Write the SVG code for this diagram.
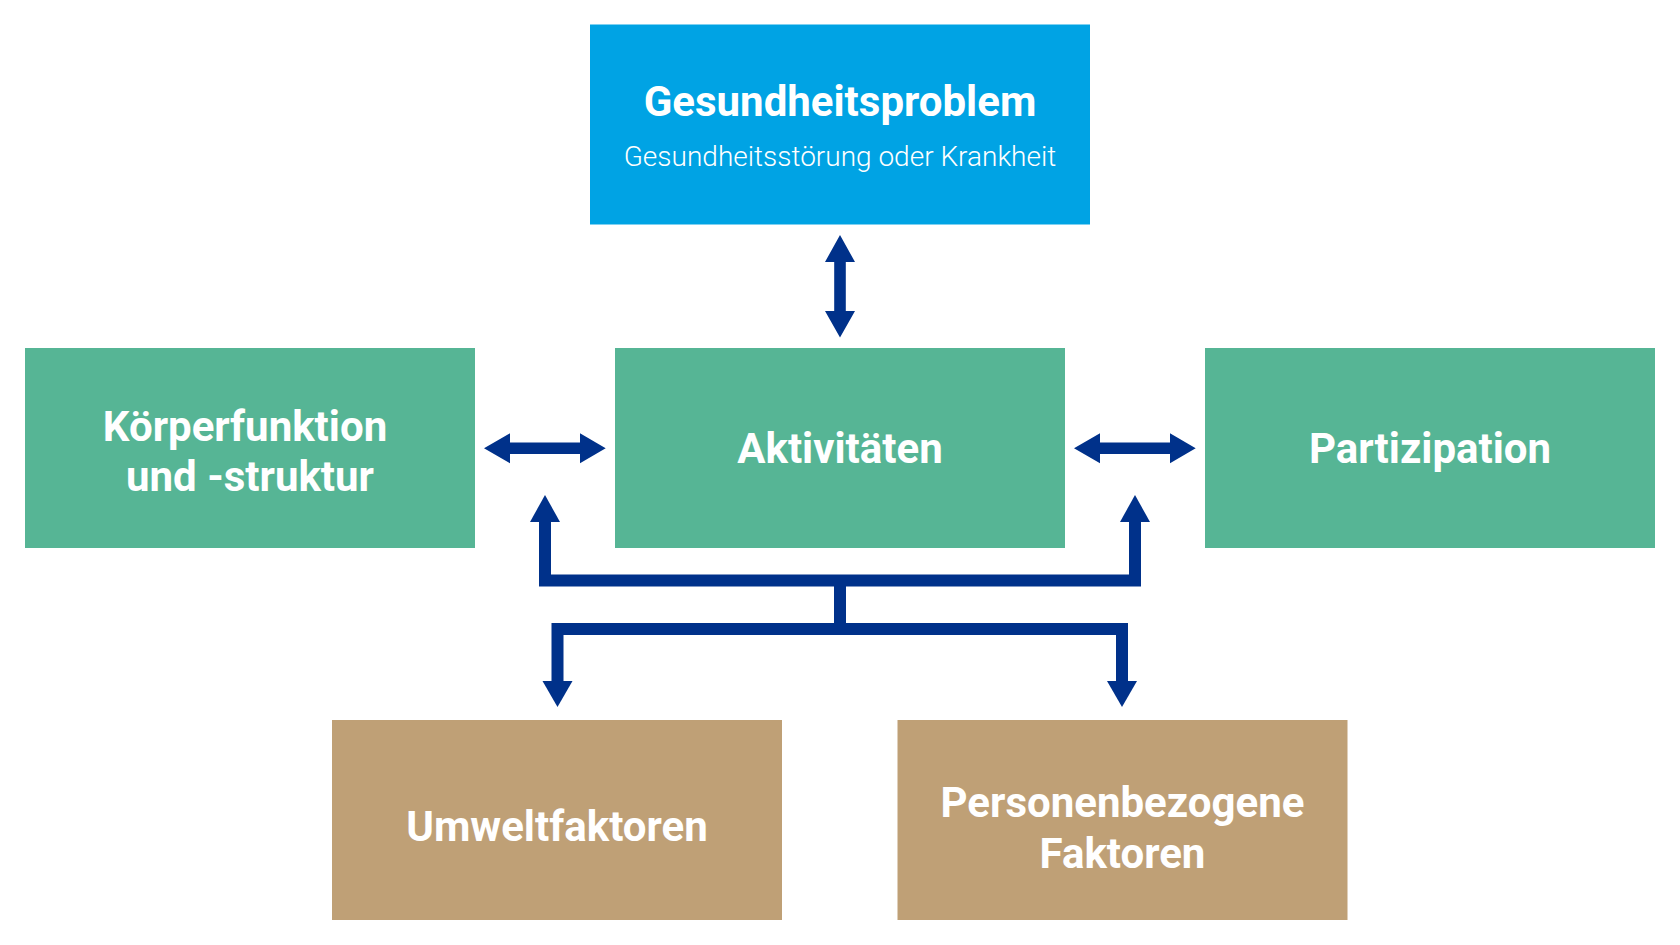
<svg xmlns="http://www.w3.org/2000/svg" width="1680" height="945" viewBox="0 0 1680 945">
<style>
.t{font-family:Roboto,"Liberation Sans",sans-serif;font-weight:700;font-size:42px;fill:#fff;text-anchor:middle}
.s{font-family:Roboto,"Liberation Sans",sans-serif;font-weight:300;font-size:28px;fill:#fff;text-anchor:middle}
.blue{fill:#00A3E4}
.green{fill:#56B595}
.tan{fill:#BFA076}
.ar{fill:#00318A}
.ln{fill:none;stroke:#00318A;stroke-width:12;stroke-linejoin:miter}
</style>
<rect width="1680" height="945" fill="#fff"/>
<g id="gesundheitsproblem">
<rect class="blue" x="590" y="24.5" width="500" height="200"/>
<text class="t" x="840" y="116">Gesundheitsproblem</text>
<text class="s" x="840" y="166">Gesundheitsstörung oder Krankheit</text>
</g>
<g id="koerperfunktion">
<rect class="green" x="25" y="348" width="450" height="200"/>
<text class="t" x="245" y="441">Körperfunktion</text>
<text class="t" x="250" y="491">und -struktur</text>
</g>
<g id="aktivitaeten">
<rect class="green" x="615" y="348" width="450" height="200"/>
<text class="t" x="840" y="463">Aktivitäten</text>
</g>
<g id="partizipation">
<rect class="green" x="1205" y="348" width="450" height="200"/>
<text class="t" x="1430" y="463">Partizipation</text>
</g>
<g id="umweltfaktoren">
<rect class="tan" x="332" y="720" width="450" height="200"/>
<text class="t" x="557" y="841">Umweltfaktoren</text>
</g>
<g id="personenbezogene">
<rect class="tan" x="897.5" y="720" width="450" height="200"/>
<text class="t" x="1122.5" y="817">Personenbezogene</text>
<text class="t" x="1122.5" y="868">Faktoren</text>
</g>
<g id="connectors">
<path class="ar" d="M840,235 L855,262 L845.8,262 L845.8,311 L855,311 L840,337.5 L825,311 L834.2,311 L834.2,262 L825,262 Z"/>
<path class="ar" d="M484,448.3 L510,433.3 L510,442.5 L580,442.5 L580,433.3 L605.7,448.3 L580,463.3 L580,454.1 L510,454.1 L510,463.3 Z"/>
<path class="ar" d="M1074,448.3 L1100,433.3 L1100,442.5 L1170,442.5 L1170,433.3 L1195.7,448.3 L1170,463.3 L1170,454.1 L1100,454.1 L1100,463.3 Z"/>
<path class="ln" d="M545,520 V580.5 H1135 V520"/>
<path class="ln" d="M840,580 V629"/>
<path class="ln" d="M557.5,682 V629 H1122 V682"/>
<polygon class="ar" points="545,495 560,522 530,522"/>
<polygon class="ar" points="1135,495 1150,522 1120,522"/>
<polygon class="ar" points="557.5,707 572.5,681 542.5,681"/>
<polygon class="ar" points="1122,707 1137,681 1107,681"/>
</g>
</svg>
